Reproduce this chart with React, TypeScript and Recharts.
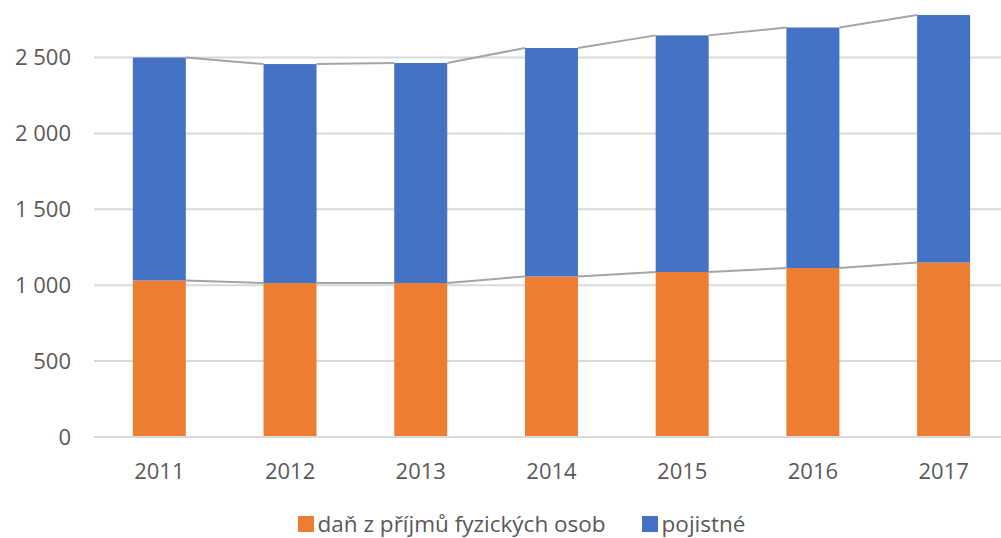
import React from "react";
import { BarChart, Bar, XAxis, YAxis, CartesianGrid, Legend } from "recharts";

const years = ["2011", "2012", "2013", "2014", "2015", "2016", "2017"];
const danValues = [1031, 1014, 1014, 1058, 1087, 1113, 1150];
const pojistneValues = [1469, 1443, 1450, 1505, 1559, 1585, 1630];
const yTicks = [0, 500, 1000, 1500, 2000, 2500];

const data = years.map((y, i) => ({ year: y, dan: danValues[i], poj: pojistneValues[i] }));

const CHART_W = 1009;
const CHART_H = 538;
const Y_AXIS_W = 94;
const STEP = (CHART_W - Y_AXIS_W) / years.length;
const FONT = "'Open Sans', sans-serif";
const TEXT = "#595959";
const CONNECTOR = "#a5a5a5";

const fmt = (v: number) => String(v).replace(/\B(?=(\d{3})+(?!\d))/g, " ");

const makeShape = (key: "dan" | "poj") => (props: any) => {
  const { x, y, width, height, fill, index, payload } = props;
  const value = payload[key];
  const pxPerUnit = height / value;
  const base = y + height;
  let line = null;
  if (index < data.length - 1) {
    const next = data[index + 1];
    let nextY: number;
    if (key === "dan") {
      nextY = base - next.dan * pxPerUnit;
    } else {
      const zeroY = base + payload.dan * pxPerUnit;
      nextY = zeroY - (next.dan + next.poj) * pxPerUnit;
    }
    line = (
      <line x1={x + width} y1={y} x2={x + STEP} y2={nextY} stroke={CONNECTOR} strokeWidth={2} />
    );
  }
  return (
    <g>
      <rect x={x} y={y} width={width} height={height} fill={fill} />
      {line}
    </g>
  );
};

const LegendContent = () => (
  <div
    style={{
      height: 40,
      display: "flex",
      justifyContent: "center",
      alignItems: "center",
      fontFamily: FONT,
      fontSize: 22.5,
      lineHeight: "24px",
      color: TEXT,
      paddingLeft: 34,
      paddingTop: 12,
      boxSizing: "border-box",
      whiteSpace: "nowrap",
    }}
  >
    <span style={{ display: "inline-flex", alignItems: "center", marginRight: 36 }}>
      <span style={{ width: 16, height: 16, background: "#ED7D31", marginRight: 4, display: "inline-block" }} />
      daň z příjmů fyzických osob
    </span>
    <span style={{ display: "inline-flex", alignItems: "center" }}>
      <span style={{ width: 16, height: 16, background: "#4472C4", marginRight: 4, display: "inline-block" }} />
      pojistné
    </span>
  </div>
);

export default function App() {
  return (
    <div style={{ position: "absolute", left: 0, top: 0, width: 1001, height: 538, overflow: "hidden", background: "#fff" }}>
      <BarChart
        width={CHART_W}
        height={CHART_H}
        data={data}
        margin={{ top: 12, right: 0, bottom: 0, left: 0 }}
        barCategoryGap="29.7%"
      >
        <CartesianGrid vertical={false} horizontalValues={yTicks} stroke="#d9d9d9" strokeWidth={2} />
        <XAxis
          dataKey="year"
          height={61}
          tickLine={false}
          axisLine={{ stroke: "#d9d9d9", strokeWidth: 2 }}
          tickMargin={20}
          tick={{ fill: TEXT, fontSize: 22, fontFamily: FONT }}
        />
        <YAxis
          width={Y_AXIS_W}
          domain={[0, 2800]}
          ticks={yTicks}
          allowDataOverflow
          tickLine={false}
          axisLine={false}
          tickMargin={17}
          tickFormatter={fmt}
          tick={{ fill: TEXT, fontSize: 22, fontFamily: FONT }}
        />
        <Legend verticalAlign="bottom" content={<LegendContent />} />
        <Bar dataKey="dan" stackId="a" fill="#ED7D31" isAnimationActive={false} shape={makeShape("dan")} />
        <Bar dataKey="poj" stackId="a" fill="#4472C4" isAnimationActive={false} shape={makeShape("poj")} />
      </BarChart>
    </div>
  );
}
